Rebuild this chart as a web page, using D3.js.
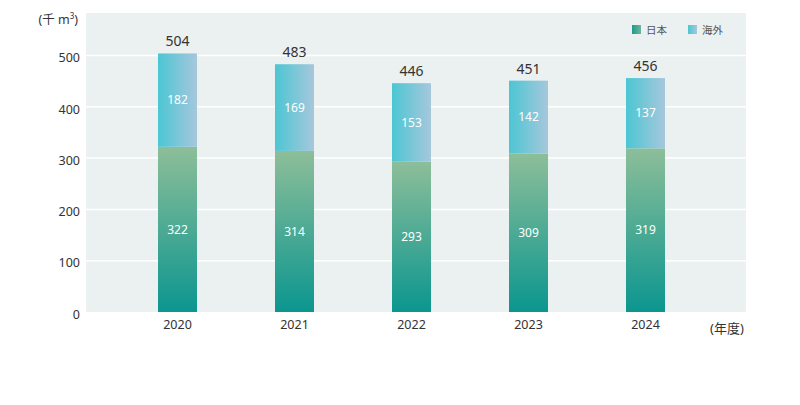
<!DOCTYPE html>
<html>
<head>
<meta charset="utf-8">
<script src="https://cdn.jsdelivr.net/npm/d3@7"></script>
<style>
  body { margin: 0; background: #fff; }
  text { font-family: "Noto Sans", "Noto Sans CJK JP", sans-serif; }
</style>
</head>
<body>
<script>
// data
var years = ["2020", "2021", "2022", "2023", "2024"];
var japan = [322, 314, 293, 309, 319];
var overseas = [182, 169, 153, 142, 137];
var totals = [504, 483, 446, 451, 456];
var yTicks = [0, 100, 200, 300, 400, 500];

function main() {
    var width = 800, height = 405;
    var plot = {left: 86, right: 746, top: 13, bottom: 312};

    var svg = d3.select("body").append("svg")
        .attr("width", width)
        .attr("height", height);

    var defs = svg.append("defs");
    // Japan: vertical gradient, teal bottom -> sage top
    var gJ = defs.append("linearGradient").attr("id", "gJapan")
        .attr("x1", 0).attr("y1", 1).attr("x2", 0).attr("y2", 0);
    gJ.append("stop").attr("offset", "0%").attr("stop-color", "#0b968f");
    gJ.append("stop").attr("offset", "100%").attr("stop-color", "#8dbe99");
    // overseas: horizontal gradient
    var gO = defs.append("linearGradient").attr("id", "gOver")
        .attr("x1", 0).attr("y1", 0).attr("x2", 1).attr("y2", 0);
    gO.append("stop").attr("offset", "0%").attr("stop-color", "#4cc6d3");
    gO.append("stop").attr("offset", "100%").attr("stop-color", "#a6c7dc");
    // legend swatch Japan
    var gL = defs.append("linearGradient").attr("id", "gLeg")
        .attr("x1", 0).attr("y1", 0).attr("x2", 1).attr("y2", 0);
    gL.append("stop").attr("offset", "0%").attr("stop-color", "#1f9a8a");
    gL.append("stop").attr("offset", "100%").attr("stop-color", "#6fb49a");

    // plot background
    svg.append("rect")
        .attr("x", plot.left).attr("y", plot.top)
        .attr("width", plot.right - plot.left)
        .attr("height", plot.bottom - plot.top)
        .attr("fill", "#ebf0f1");

    var x = d3.scaleBand()
        .domain(years)
        .range([119, 704])
        .paddingInner(2 / 3)
        .paddingOuter(1 / 3);

    var y = d3.scaleLinear()
        .domain([0, 500])
        .range([plot.bottom, 55.5]);

    // gridlines
    svg.append("g").selectAll("line")
        .data(yTicks.filter(function(d) { return d > 0; }))
        .enter().append("line")
        .attr("x1", plot.left).attr("x2", plot.right)
        .attr("y1", function(d) { return y(d); })
        .attr("y2", function(d) { return y(d); })
        .attr("stroke", "#fff")
        .attr("stroke-width", 1.5);

    // y axis labels
    var yAxis = svg.append("g")
        .attr("transform", "translate(" + (plot.left - 4) + ",0)")
        .call(d3.axisLeft(y).tickValues(yTicks).tickSize(0).tickPadding(2));
    yAxis.select(".domain").remove();
    yAxis.selectAll("text")
        .attr("font-size", 12.5)
        .attr("fill", "#333")
        .attr("dy", "0.5em");

    // x axis labels
    var xAxis = svg.append("g")
        .attr("transform", "translate(0," + plot.bottom + ")")
        .call(d3.axisBottom(x).tickSize(0).tickPadding(8));
    xAxis.select(".domain").remove();
    xAxis.selectAll("text")
        .attr("font-size", 12.5)
        .attr("fill", "#333");

    var rows = years.map(function(yr, i) {
        return {year: yr, japan: japan[i], overseas: overseas[i], total: totals[i]};
    });

    // japan bars
    svg.selectAll(".bar-j")
        .data(rows)
        .enter().append("rect")
        .attr("class", "bar-j")
        .attr("x", function(d) { return x(d.year); })
        .attr("width", x.bandwidth())
        .attr("y", function(d) { return y(d.japan); })
        .attr("height", function(d) { return y(0) - y(d.japan); })
        .attr("fill", "url(#gJapan)");

    // overseas bars
    svg.selectAll(".bar-o")
        .data(rows)
        .enter().append("rect")
        .attr("class", "bar-o")
        .attr("x", function(d) { return x(d.year); })
        .attr("width", x.bandwidth())
        .attr("y", function(d) { return y(d.japan + d.overseas); })
        .attr("height", function(d) { return y(d.japan) - y(d.japan + d.overseas); })
        .attr("fill", "url(#gOver)");

    // segment labels
    svg.selectAll(".lab-j")
        .data(rows)
        .enter().append("text")
        .attr("x", function(d) { return x(d.year) + x.bandwidth() / 2; })
        .attr("y", function(d) { return y(d.japan / 2); })
        .attr("dy", "0.35em")
        .attr("text-anchor", "middle")
        .attr("font-size", 12)
        .attr("fill", "#fff")
        .text(function(d) { return d.japan; });

    svg.selectAll(".lab-o")
        .data(rows)
        .enter().append("text")
        .attr("x", function(d) { return x(d.year) + x.bandwidth() / 2; })
        .attr("y", function(d) { return y(d.japan + d.overseas / 2); })
        .attr("dy", "0.35em")
        .attr("text-anchor", "middle")
        .attr("font-size", 12)
        .attr("fill", "#fff")
        .text(function(d) { return d.overseas; });

    // totals
    svg.selectAll(".lab-t")
        .data(rows)
        .enter().append("text")
        .attr("x", function(d) { return x(d.year) + x.bandwidth() / 2; })
        .attr("y", function(d) { return y(d.total) - 7; })
        .attr("text-anchor", "middle")
        .attr("font-size", 14)
        .attr("fill", "#333")
        .text(function(d) { return d.total; });

    // unit label
    var unit = svg.append("text")
        .attr("x", 78).attr("y", 24)
        .attr("text-anchor", "end")
        .attr("font-size", 12.5)
        .attr("fill", "#333");
    unit.append("tspan").text("(千 m");
    unit.append("tspan").attr("font-size", 8).attr("dy", -5).text("3");
    unit.append("tspan").attr("dy", 5).text(")");

    // year unit
    svg.append("text")
        .attr("x", 727).attr("y", 333)
        .attr("text-anchor", "middle")
        .attr("font-size", 13)
        .attr("fill", "#333")
        .text("(年度)");

    // legend
    var legend = [
        {label: "日本", fill: "url(#gLeg)", x: 632},
        {label: "海外", fill: "url(#gOver)", x: 688}
    ];
    var lg = svg.append("g").selectAll("g")
        .data(legend)
        .enter().append("g")
        .attr("transform", function(d) { return "translate(" + d.x + ",25)"; });
    lg.append("rect")
        .attr("width", 9).attr("height", 9)
        .attr("fill", function(d) { return d.fill; });
    lg.append("text")
        .attr("x", 14).attr("y", 8.5)
        .attr("font-size", 10.5)
        .attr("fill", "#555")
        .text(function(d) { return d.label; });
}

main();
</script>
</body>
</html>
